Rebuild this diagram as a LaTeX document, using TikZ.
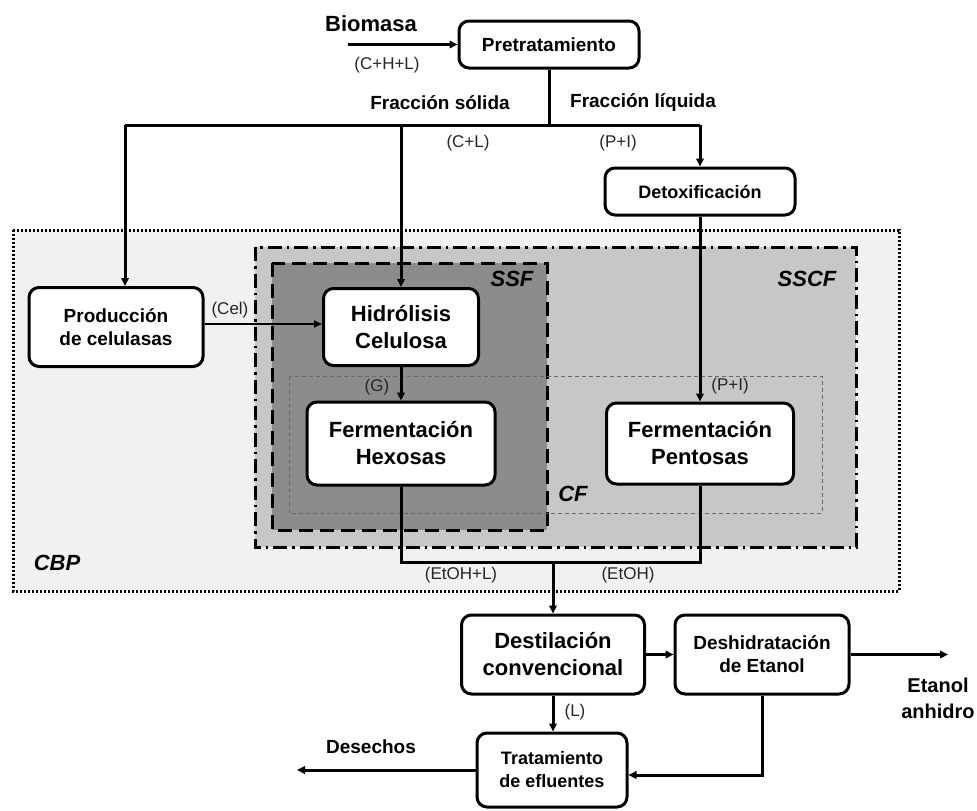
\documentclass[tikz,border=0pt]{standalone}
\usepackage{fontspec}
\setmainfont{Liberation Sans}
\usetikzlibrary{arrows.meta}
\definecolor{cbpfill}{gray}{0.945}
\definecolor{sscffill}{gray}{0.78}
\definecolor{ssffill}{gray}{0.55}
\definecolor{lblgray}{gray}{0.15}
\definecolor{cfline}{gray}{0.42}
\begin{document}
\begin{tikzpicture}[x=1pt,y=-1pt,
  box/.style={draw, line width=3pt, rounded corners=10pt, fill=white, align=center, inner sep=0pt},
  mid/.style={font=\bfseries\fontsize{19}{23}\selectfont},
  big/.style={font=\bfseries\fontsize{22}{27}\selectfont},
  flow/.style={line width=3pt, -{Triangle[length=8pt,width=7.5pt]}},
  thinflow/.style={line width=2pt, -{Triangle[length=8pt,width=7pt]}},
  plain/.style={line width=3pt},
  lbl/.style={font=\fontsize{17}{20}\selectfont, text=lblgray, inner sep=0pt},
  head/.style={font=\bfseries\fontsize{19}{23}\selectfont, inner sep=0pt},
  zone/.style={font=\bfseries\itshape\fontsize{22}{26}\selectfont, inner sep=0pt},
]
\useasboundingbox (0,0) rectangle (977,811);

% zones
\draw[fill=cbpfill, line width=3pt, dash pattern=on 2pt off 2pt] (13,230) rectangle (899,591);
\draw[fill=sscffill, line width=3pt, dash pattern=on 14pt off 5pt on 2.5pt off 5pt] (255,247) rectangle (856,547);
\draw[fill=ssffill, line width=3pt, dash pattern=on 14pt off 7pt] (272,263) rectangle (547,530);
\draw[cfline, line width=0.9pt, dash pattern=on 4pt off 3pt] (289,376) rectangle (822,513);
\node[zone] (lcbp) at (57,563) {CBP};
\node[zone] (lsscf) at (807,279) {SSCF};
\node[zone] (lssf) at (512,279) {SSF};
\node[zone] (lcf) at (573,494) {CF};

% boxes
\node[box, mid, minimum width=180pt, minimum height=47pt] (pre) at (549,44.5) {Pretratamiento};
\node[box, font=\bfseries\fontsize{18}{22}\selectfont, minimum width=190pt, minimum height=47pt] (detox) at (700,191.5) {Detoxificación};
\node[box, mid, minimum width=174pt, minimum height=79pt] (prod) at (116,327) {Producción\\de celulasas};
\node[box, big, minimum width=155pt, minimum height=77pt] (hid) at (401,327) {Hidrólisis\\Celulosa};
\node[box, big, minimum width=188pt, minimum height=83pt] (fhex) at (401,443.5) {Fermentación\\Hexosas};
\node[box, big, minimum width=187pt, minimum height=81pt] (fpen) at (700,443.5) {Fermentación\\Pentosas};
\node[box, big, minimum width=183pt, minimum height=79pt] (dest) at (553,654.5) {Destilación\\convencional};
\node[box, mid, minimum width=174pt, minimum height=79pt] (desh) at (762,654.5) {Deshidratación\\de Etanol};
\node[box, font=\bfseries\fontsize{18}{23}\selectfont, minimum width=150pt, minimum height=74pt] (trat) at (552,770) {Tratamiento\\de efluentes};

% top
\node[font=\bfseries\fontsize{22}{26}\selectfont, inner sep=0pt] (bio) at (371,24) {Biomasa};
\coordinate (bstart) at (348,44.5);
\draw[flow] (bstart) -- (pre.west);
\node[lbl] (lchl) at (387,65) {(C+H+L)};

\coordinate (j) at (549,125);
\coordinate (jl) at (125,125);
\coordinate (jm) at (401,125);
\coordinate (jr) at (700,125);
\draw[plain] (pre.south) -- (j);
\draw[plain] (jl) -- (jr);
\draw[flow] (jl) -- (jl |- prod.north);
\draw[flow] (jm) -- (hid.north);
\draw[flow] (jr) -- (detox.north);
\node[head] (fs) at (440,103) {Fracción sólida};
\node[head] (fl) at (643,103) {Fracción líquida};
\node[lbl] (lcl) at (468,143) {(C+L)};
\node[lbl] (lpi) at (618,143) {(P+I)};

\draw[flow] (detox.south) -- (fpen.north);
\node[lbl] (lpi2) at (730,386) {(P+I)};

\draw[thinflow] ([yshift=3pt]prod.east) -- ([yshift=3pt]hid.west);
\node[lbl] (lcel) at (230,310) {(Cel)};

\draw[flow] (hid.south) -- (fhex.north);
\node[lbl] (lg) at (377,387) {(G)};

% outputs
\coordinate (m1) at (401,562);
\coordinate (m2) at (700,562);
\coordinate (m) at (553,562);
\draw[plain] (fhex.south) -- (m1) -- (m2) -- (fpen.south);
\draw[flow] (m) -- (dest.north);
\node[lbl] (leh) at (461,575) {(EtOH+L)};
\node[lbl] (le) at (628,575) {(EtOH)};

\draw[flow] (dest.east) -- (desh.west);
\coordinate (etout) at (948,654.5);
\draw[flow] (desh.east) -- (etout);
\node[font=\bfseries\fontsize{20}{26}\selectfont, align=center, inner sep=0pt] (etl) at (938,698) {Etanol\\anhidro};

\draw[flow] (dest.south) -- (dest.south |- trat.north);
\node[lbl] (ll) at (575,712) {(L)};

\coordinate (dese) at (297,770);
\draw[flow] (trat.west) -- (dese);
\node[head] (ldes) at (371,747) {Desechos};

\coordinate (r1) at (762,775);
\draw[flow] (desh.south) -- (r1) -- (r1 -| trat.east);
\end{tikzpicture}
\end{document}
